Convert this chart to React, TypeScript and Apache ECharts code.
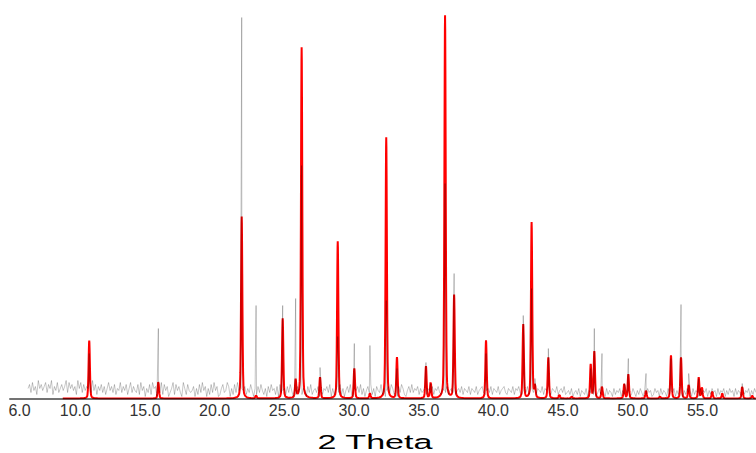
import React, { useEffect, useRef } from "react";
import * as echarts from "echarts";

// x-axis label values (2θ, degrees)
const tickValues = [6, 10, 15, 20, 25, 30, 35, 40, 45, 50, 55];

// calculated pattern (red): peak positions (2θ) and heights
const calcPeakPos = [
  11.0, 15.96, 21.94, 22.97, 24.88, 25.81, 26.24, 27.56, 28.83, 30.02, 31.14,
  32.31, 33.08, 35.16, 35.5, 36.53, 37.18, 39.47, 42.14, 42.74, 42.98, 43.94,
  44.73, 45.62, 46.98, 47.24, 47.79, 49.39, 49.68, 50.95, 51.95, 52.74, 53.46,
  54.01, 54.73, 54.96, 55.7, 56.42, 57.85, 58.57,
];
const calcPeakHeight = [
  58, 17, 182, 3, 80, 18, 351, 21, 157, 30, 5,
  261, 41, 32, 16, 383, 103, 58, 74, 176, 12, 41,
  4, 2, 34, 47, 12, 15, 24, 8, 2, 43, 41,
  14, 21, 11, 7, 5, 12, 3,
];

// observed pattern (grey): spikes at these positions
const obsSpikePos = [
  11.0, 15.96, 21.94, 22.97, 24.88, 25.81, 26.24, 27.56, 28.83, 30.02, 31.14,
  32.31, 33.08, 35.16, 35.5, 36.53, 37.18, 39.47, 42.14, 42.74, 42.98, 43.94,
  46.98, 47.24, 47.79, 49.39, 49.68, 50.95, 52.74, 53.46, 54.01, 54.73, 57.85,
];
const obsSpikeHeight = [
  45, 70, 381, 93, 93, 100, 233, 31, 62, 55, 53,
  98, 30, 36, 15, 215, 125, 45, 83, 110, 20, 50,
  30, 70, 45, 15, 40, 25, 40, 94, 25, 20, 15,
];
// observed background noise, one digit per step (height = digit * 2)
const obsNoise =
  "57384629574683759264835746938574629583746583947264736258463725483647258364" +
  "37284615372856143827461358274631852743461527384615273846125734861527384" +
  "65" +
  "46253741526374251637452617345263741526372541637245361725463715246372514637215463" +
  "72514637251643725146375241637521463" +
  "7" +
  "3546253462543625463254362453624536254362543624563245362543624563254362546324536245362543625463254362" +
  "45362" +
  "34251342514325143524135243152431524351425341253142531425341253415243152435142531425341524315243514253415243514253" +
  "41524315243514253";
const OBS_START = 6.61;
const OBS_END = 58.84;
const CALC_START = 9.1;
const CALC_END = 58.84;

// peak profile (style)
const HWHM = 0.055;
const ETA = 0.3;
const OFFSETS = [0.8, 0.5, 0.35, 0.25, 0.18, 0.13, 0.1, 0.075, 0.055, 0.04, 0.025, 0.012];

function profile(dx: number) {
  const r = (dx / HWHM) * (dx / HWHM);
  return ETA / (1 + r) + (1 - ETA) * Math.exp(-Math.LN2 * r);
}

function buildCalc(): number[][] {
  const xs: number[] = [CALC_START, CALC_END];
  for (let x = CALC_START; x < CALC_END; x += 0.25) xs.push(x);
  calcPeakPos.forEach((c) => {
    xs.push(c);
    OFFSETS.forEach((o) => {
      xs.push(c - o);
      xs.push(c + o);
    });
  });
  const uniq = Array.from(new Set(xs.map((v) => Math.round(v * 1000) / 1000)))
    .filter((v) => v >= CALC_START && v <= CALC_END)
    .sort((a, b) => a - b);
  return uniq.map((x) => {
    let y = 0;
    calcPeakPos.forEach((c, i) => {
      y += calcPeakHeight[i] * profile(x - c);
    });
    return [x, y];
  });
}

function buildObs(): number[][] {
  const digits = obsNoise.split("").map(Number);
  const step = (OBS_END - OBS_START) / (digits.length - 1);
  const pts: number[][] = digits.map((d, i) => [OBS_START + i * step, d * 2]);
  obsSpikePos.forEach((c, i) => pts.push([c, obsSpikeHeight[i]]));
  pts.sort((a, b) => a[0] - b[0]);
  return pts;
}

export default function App() {
  const ref = useRef<HTMLDivElement>(null);
  useEffect(() => {
    if (!ref.current) return;
    const chart = echarts.init(ref.current, null, { renderer: "svg" });
    chart.setOption({
      animation: false,
      backgroundColor: "#ffffff",
      grid: { left: 10, right: 0, top: 8.5, bottom: 54.5 },
      xAxis: {
        type: "value",
        min: 5.315,
        max: 58.84,
        z: 5,
        axisLine: { show: true, lineStyle: { color: "rgba(0,0,0,0.55)", width: 2 } },
        axisTick: { show: false },
        splitLine: { show: false },
        axisLabel: {
          customValues: tickValues,
          formatter: (v: number) => v.toFixed(1),
          color: "#333",
          fontSize: 16,
          fontFamily: "'Liberation Sans Narrow', 'Liberation Sans', Arial, sans-serif",
          margin: 4,
          showMinLabel: true,
          showMaxLabel: true,
        },
      },
      yAxis: {
        type: "value",
        min: 0,
        max: 390,
        show: false,
        splitLine: { show: false },
      },
      graphic: [
        {
          type: "text",
          x: 375,
          y: 442.5,
          scaleX: 1.75,
          style: {
            text: "2 Theta",
            fontSize: 19.5,
            fontFamily: "'Liberation Sans', Arial, sans-serif",
            fill: "#000",
            align: "center",
            verticalAlign: "middle",
          },
        },
      ],
      series: [
        {
          type: "line",
          name: "calculated",
          data: buildCalc(),
          showSymbol: false,
          symbol: "none",
          z: 2,
          silent: true,
          lineStyle: { color: "#ff0000", width: 2 },
        },
        {
          type: "line",
          name: "observed",
          data: buildObs(),
          showSymbol: false,
          symbol: "none",
          z: 3,
          silent: true,
          lineStyle: { color: "#000", width: 0.5, opacity: 0.45 },
        },
      ],
    });
    return () => chart.dispose();
  }, []);
  return (
    <div
      ref={ref}
      style={{ position: "fixed", left: 0, top: 0, width: 756, height: 453 }}
    />
  );
}
